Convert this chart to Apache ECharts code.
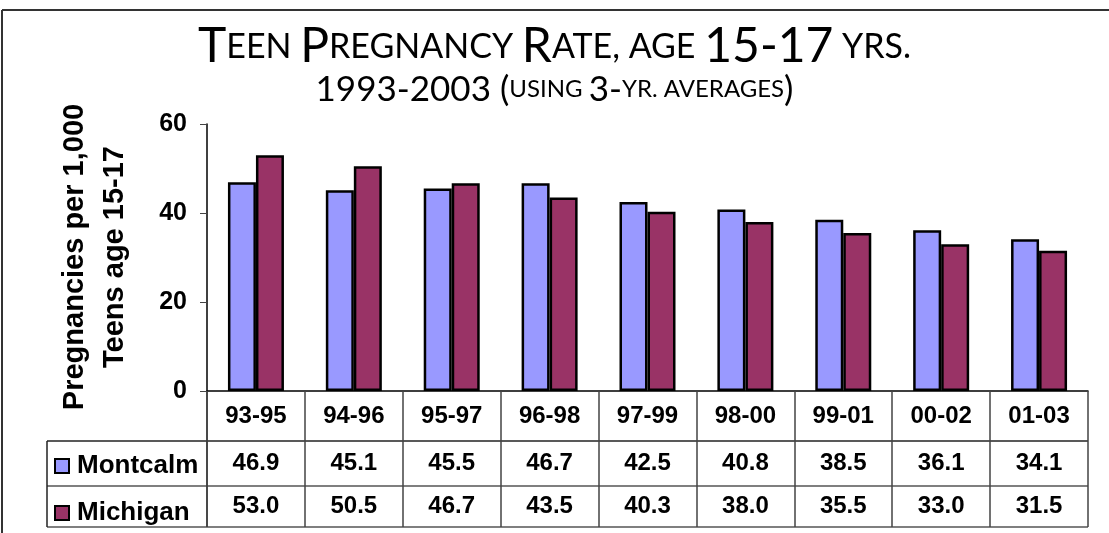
<!DOCTYPE html>
<html>
<head>
<meta charset="utf-8">
<script src="https://cdn.jsdelivr.net/npm/echarts@6/dist/echarts.min.js"></script>
<style>
  html, body { margin: 0; padding: 0; background: #fff; }
  #main { width: 1109px; height: 533px; }
</style>
</head>
<body>
<div id="main"></div>
<script>
// data
var periods = ['93-95', '94-96', '95-97', '96-98', '97-99', '98-00', '99-01', '00-02', '01-03'];
var montcalm = [46.9, 45.1, 45.5, 46.7, 42.5, 40.8, 38.5, 36.1, 34.1];
var michigan = [53.0, 50.5, 46.7, 43.5, 40.3, 38.0, 35.5, 33.0, 31.5];
var yTicks = [0, 20, 40, 60];

var bold = 'Liberation Sans';
var titleFont = 'Lato';

var myChart = echarts.init(document.getElementById('main'));

var option = {
    backgroundColor: '#ffffff',
    animation: false,
    title: [{
        left: 'center',
        top: 18,
        text: '{b|T}{s|EEN }{b|P}{s|REGNANCY }{b|R}{s|ATE, AGE }{b|15-17}{s| YRS.}',
        textStyle: {
            fontWeight: 'normal',
            rich: {
                b: { fontFamily: titleFont, fontWeight: 'normal', fontSize: 48, color: '#000', lineHeight: 48 },
                s: { fontFamily: titleFont, fontWeight: 'normal', fontSize: 34, color: '#000', lineHeight: 48 }
            }
        }
    }, {
        left: 'center',
        top: 67,
        text: '{b|1993-2003 (}{s|USING }{b|3-}{s|YR. AVERAGES}{b|)}',
        textStyle: {
            fontWeight: 'normal',
            rich: {
                b: { fontFamily: titleFont, fontWeight: 'normal', fontSize: 35, color: '#000', lineHeight: 35 },
                s: { fontFamily: titleFont, fontWeight: 'normal', fontSize: 24, color: '#000', lineHeight: 35 }
            }
        }
    }],
    legend: {
        orient: 'vertical',
        left: 54,
        top: 453,
        padding: 0,
        itemGap: 21,
        itemWidth: 14,
        itemHeight: 14,
        icon: 'rect',
        textStyle: { fontFamily: bold, fontWeight: 'bold', fontSize: 26, color: '#000', lineHeight: 22, padding: [0, 0, 0, 3] },
        data: ['Montcalm', 'Michigan']
    },
    grid: {
        left: 207,
        right: 21,
        top: 124,
        bottom: 142
    },
    xAxis: {
        type: 'category',
        data: periods,
        axisLine: { lineStyle: { color: '#000', width: 1.5 } },
        axisTick: { show: true, length: 136, lineStyle: { color: '#444', width: 1.5 } },
        axisLabel: {
            margin: 0,
            interval: 0,
            formatter: function (value, idx) {
                return '{h|' + value + '}\n{v|' + montcalm[idx].toFixed(1) + '}\n{w|' + michigan[idx].toFixed(1) + '}';
            },
            rich: {
                h: { fontFamily: bold, fontWeight: 'bold', fontSize: 24, color: '#000', lineHeight: 50 },
                v: { fontFamily: bold, fontWeight: 'bold', fontSize: 24, color: '#000', lineHeight: 45 },
                w: { fontFamily: bold, fontWeight: 'bold', fontSize: 24, color: '#000', lineHeight: 41 }
            }
        }
    },
    yAxis: {
        type: 'value',
        min: yTicks[0],
        max: yTicks[yTicks.length - 1],
        interval: 20,
        splitLine: { show: false },
        axisLine: { show: true, lineStyle: { color: '#000', width: 1.5 } },
        axisTick: { show: true, length: 7, lineStyle: { color: '#444' } },
        axisLabel: { margin: 20, fontFamily: bold, fontWeight: 'bold', fontSize: 25, color: '#000' }
    },
    series: [{
        name: 'Montcalm',
        type: 'bar',
        data: montcalm,
        barWidth: 28,
        barGap: '0%',
        itemStyle: { color: '#9999ff', borderColor: '#000', borderWidth: 2.5 }
    }, {
        name: 'Michigan',
        type: 'bar',
        data: michigan,
        barWidth: 28,
        barGap: '0%',
        itemStyle: { color: '#993366', borderColor: '#000', borderWidth: 2.5 }
    }],
    graphic: [
        // y axis title
        {
            type: 'text',
            x: 95, y: 257,
            rotation: Math.PI / 2,
            style: {
                text: 'Pregnancies per 1,000\nTeens age 15-17',
                fontFamily: 'Liberation Sans',
                fontWeight: 'bold',
                fontSize: 29,
                fill: '#000',
                align: 'center',
                verticalAlign: 'middle',
                lineHeight: 40
            }
        },
        // outer frame
        { type: 'line', shape: { x1: 2, y1: 10, x2: 1109, y2: 10 }, style: { stroke: '#333', lineWidth: 2 } },
        { type: 'line', shape: { x1: 2, y1: 10, x2: 2, y2: 533 }, style: { stroke: '#333', lineWidth: 2 } },
        // data table rules
        { type: 'line', shape: { x1: 47, y1: 441, x2: 1088, y2: 441 }, style: { stroke: '#222', lineWidth: 1.5 } },
        { type: 'line', shape: { x1: 47, y1: 486, x2: 1088, y2: 486 }, style: { stroke: '#555', lineWidth: 1.5 } },
        { type: 'line', shape: { x1: 47, y1: 527, x2: 1088, y2: 527 }, style: { stroke: '#555', lineWidth: 1.5 } },
        { type: 'line', shape: { x1: 47, y1: 441, x2: 47, y2: 527 }, style: { stroke: '#222', lineWidth: 1.5 } },
        { type: 'line', shape: { x1: 207, y1: 391, x2: 207, y2: 527 }, style: { stroke: '#222', lineWidth: 1.5 } }
    ]
};

myChart.setOption(option);
</script>
</body>
</html>
